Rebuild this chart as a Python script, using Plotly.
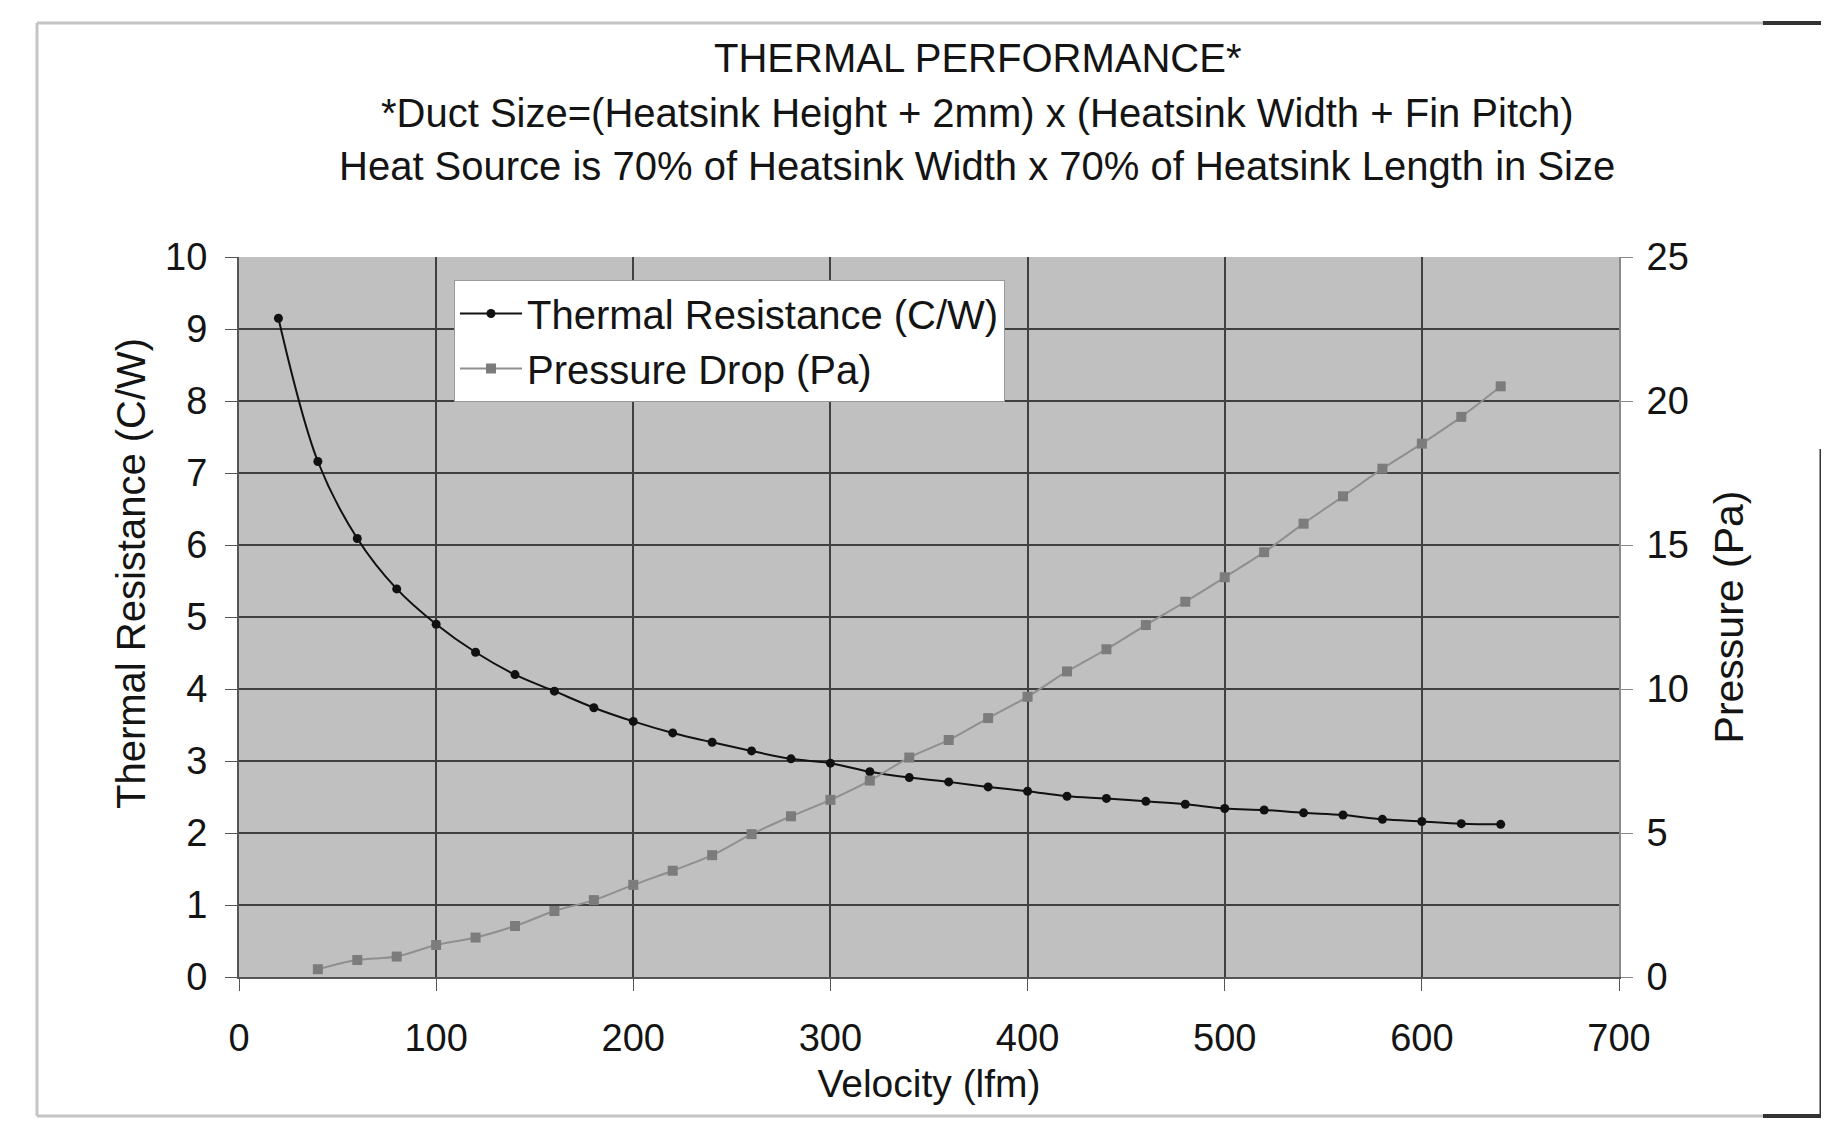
import plotly.graph_objects as go

# ---- data ----
velocity_thermal = [20, 40, 60, 80, 100, 120, 140, 160, 180, 200, 220, 240, 260, 280, 300, 320,
                    340, 360, 380, 400, 420, 440, 460, 480, 500, 520, 540, 560, 580, 600, 620, 640]
thermal_resistance = [9.15, 7.16, 6.09, 5.39, 4.90, 4.51, 4.20, 3.97, 3.74, 3.55, 3.39, 3.26, 3.14, 3.03,
                      2.97, 2.85, 2.77, 2.71, 2.64, 2.58, 2.51, 2.48, 2.44, 2.40, 2.34, 2.32, 2.28, 2.25,
                      2.19, 2.16, 2.13, 2.12]
velocity_pressure = [40, 60, 80, 100, 120, 140, 160, 180, 200, 220, 240, 260, 280, 300, 320, 340,
                     360, 380, 400, 420, 440, 460, 480, 500, 520, 540, 560, 580, 600, 620, 640]
pressure_drop = [0.27, 0.59, 0.71, 1.11, 1.37, 1.77, 2.29, 2.67, 3.20, 3.69, 4.23, 4.96, 5.58, 6.15,
                 6.82, 7.62, 8.23, 8.99, 9.73, 10.61, 11.38, 12.22, 13.03, 13.88, 14.75, 15.74, 16.69,
                 17.65, 18.52, 19.45, 20.51]

title_lines = ["THERMAL PERFORMANCE*",
               "*Duct Size=(Heatsink Height + 2mm) x (Heatsink Width + Fin Pitch)",
               "Heat Source is 70% of Heatsink Width x 70% of Heatsink Length in Size"]
left_axis_title = "Thermal Resistance (C/W)"

# page has an 8px body margin; figure sized to fit the window without scrollbars
OFF = 8
W, H = 1829 - 2 * OFF, 1129 - 2 * OFF
PL, PR, PT, PB = 239, 1619, 257, 977          # plot area in screen pixels
L, T = PL - OFF, PT - OFF
R, B = W - (PR - OFF), H - (PB - OFF)
PW, PH = PR - PL, PB - PT
FONT = "Liberation Sans, Arial, sans-serif"
TXT = "#141414"


def px(x):
    return (x - PL) / PW


def py(y):
    return (PB - y) / PH


fig = go.Figure()
fig.add_trace(go.Scatter(
    x=velocity_thermal, y=thermal_resistance, name="Thermal Resistance (C/W)",
    mode="lines+markers", line=dict(color="#111111", width=2, shape="spline"),
    marker=dict(symbol="circle", size=9, color="#111111"), yaxis="y"))
fig.add_trace(go.Scatter(
    x=velocity_pressure, y=pressure_drop, name="Pressure Drop (Pa)",
    mode="lines+markers", line=dict(color="#8f8f8f", width=2, shape="spline"),
    marker=dict(symbol="square", size=10, color="#7c7c7c"), yaxis="y2"))

ann = []
for txt, yy in zip(title_lines, [58, 113, 166]):
    ann.append(dict(text=txt, x=px(977), y=py(yy), xref="paper", yref="paper",
                    showarrow=False, xanchor="center", yanchor="middle",
                    font=dict(family=FONT, size=40, color=TXT)))
ann.append(dict(text=left_axis_title, x=px(131), y=py(573), xref="paper", yref="paper",
                showarrow=False, xanchor="center", yanchor="middle", textangle=-90,
                font=dict(family=FONT, size=40, color=TXT)))

frame_col = "#c4c4c4"
shapes = [
    dict(type="line", xref="paper", yref="paper", x0=px(37), x1=px(37), y0=py(23), y1=py(1116),
         line=dict(color=frame_col, width=3), layer="below"),
    dict(type="line", xref="paper", yref="paper", x0=px(37), x1=px(1763), y0=py(23), y1=py(23),
         line=dict(color=frame_col, width=3), layer="below"),
    dict(type="line", xref="paper", yref="paper", x0=px(37), x1=px(1763), y0=py(1116), y1=py(1116),
         line=dict(color=frame_col, width=3), layer="below"),
    dict(type="line", xref="paper", yref="paper", x0=px(1763), x1=px(1821), y0=py(23), y1=py(23),
         line=dict(color="#333333", width=4)),
    dict(type="line", xref="paper", yref="paper", x0=px(1763), x1=px(1821), y0=py(1116), y1=py(1116),
         line=dict(color="#333333", width=4)),
    dict(type="line", xref="paper", yref="paper", x0=px(1821), x1=px(1821), y0=py(449), y1=py(1116),
         line=dict(color="#333333", width=3)),
]

fig.update_layout(
    width=W, height=H, autosize=False,
    margin=dict(l=L, r=R, t=T, b=B),
    paper_bgcolor="white", plot_bgcolor="#c0c0c0",
    font=dict(family=FONT, size=38, color=TXT),
    showlegend=True,
    legend=dict(x=px(454), y=py(280), xanchor="left", yanchor="top",
                bgcolor="white", bordercolor="#9a9a9a", borderwidth=1, itemwidth=62,
                font=dict(family=FONT, size=40, color=TXT), tracegroupgap=0),
    annotations=ann, shapes=shapes,
    xaxis=dict(range=[0, 700], dtick=100, tick0=0, showgrid=True, gridcolor="#404040", gridwidth=2,
               showline=True, linecolor="#555555", linewidth=2, ticks="outside", ticklen=12,
               tickcolor="#555555", zeroline=False, ticklabelstandoff=14,
               title=dict(text="Velocity (lfm)", standoff=12, font=dict(size=39))),
    yaxis=dict(range=[0, 10], dtick=1, tick0=0, showgrid=True, gridcolor="#404040", gridwidth=2,
               showline=True, linecolor="#555555", linewidth=2, ticks="outside", ticklen=12,
               tickcolor="#555555", zeroline=False, ticklabelstandoff=10),
    yaxis2=dict(range=[0, 25], dtick=5, tick0=0, overlaying="y", side="right", showgrid=False,
                showline=True, linecolor="#8a8a8a", linewidth=2, ticks="outside", ticklen=12,
                tickcolor="#8a8a8a", zeroline=False, ticklabelstandoff=6,
                title=dict(text="Pressure (Pa)", standoff=26, font=dict(size=41))),
)

fig.write_html("out.html")
